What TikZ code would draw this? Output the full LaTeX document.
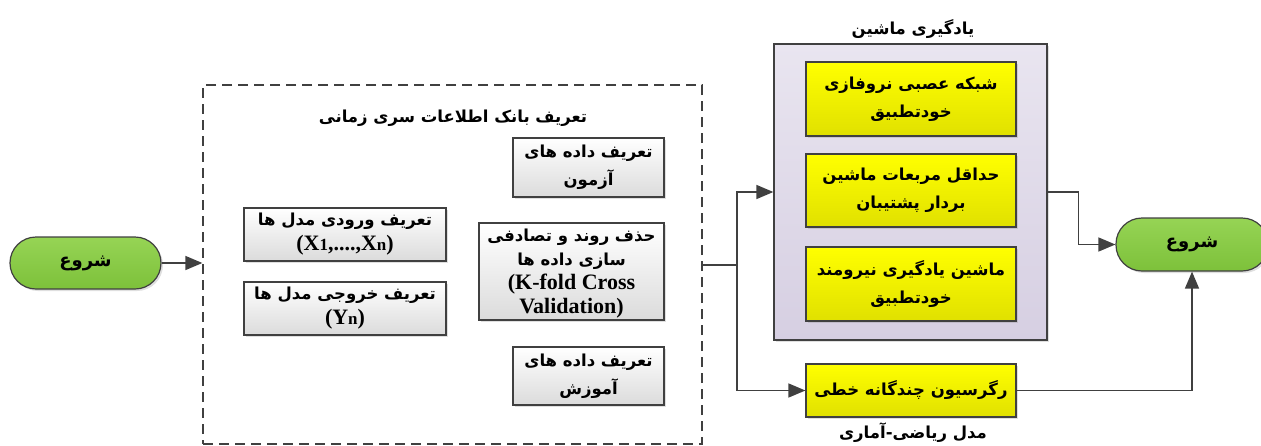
\documentclass[tikz,border=0pt]{standalone}
\usepackage{fontspec}
\setmainfont{Liberation Serif}
\newfontfamily\fafont[Script=Arabic]{DejaVu Sans}
\TeXXeTstate=1
\usetikzlibrary{arrows.meta,shadows}
\definecolor{lc}{HTML}{404040}
\definecolor{gtop}{HTML}{96D455}
\definecolor{gbot}{HTML}{7DC13A}
\definecolor{ltop}{HTML}{E9E5F0}
\definecolor{lbot}{HTML}{D6CFE2}
\newcommand\fa[1]{{\fafont\bfseries\beginR #1\endR}}
\newcommand\la[1]{{\rmfamily\bfseries\fontsize{22}{24}\selectfont #1}}
\newcommand\sm[1]{{\fontsize{17}{17}\selectfont #1}}
\tikzset{
  ln/.style={draw=lc, line width=1.5pt},
  arr/.style={ln, -{Triangle[length=17pt,width=14pt]}},
  shad/.style={drop shadow={opacity=0.25, shadow xshift=2pt, shadow yshift=-2pt}},
  txt/.style={align=center, inner sep=1pt, font=\fontsize{16.5}{28}\selectfont},
  gbox/.style={txt, shad, draw=lc, line width=1.2pt, top color=white, bottom color=black!14},
  ybox/.style={txt, shad, draw=lc, line width=1.2pt, top color=yellow, bottom color=yellow!88!black, minimum width=210pt},
  term/.style={txt, shad, draw=lc, line width=1.2pt, top color=gtop, bottom color=gbot, rounded corners=26pt, font=\fontsize{18}{20}\selectfont},
  ttl/.style={txt, font=\fontsize{16.5}{20}\selectfont},
}
\begin{document}
\begin{tikzpicture}[x=1pt,y=-1pt]
\useasboundingbox (0,0) rectangle (1261,445);
% start / end
\node[term, minimum width=151pt, minimum height=52pt] (start) at (85.5,263) {\fa{شروع}};
\node[term, minimum width=152pt, minimum height=53pt] (end) at (1192,244.5) {\fa{شروع}};
% dashed data box
\node[draw=lc, line width=1.3pt, dash pattern=on 10pt off 6pt, minimum width=499pt, minimum height=359pt, inner sep=0pt] (db) at (452.5,264.5) {};
\node[ttl] (dbt) at (453,118) {\fa{تعریف بانک اطلاعات سری زمانی}};
\node[gbox, minimum width=151pt, minimum height=59pt] (test) at (588.5,167.5) {\fa{تعریف داده های}\\ \fa{آزمون}};
\node[gbox, minimum width=202pt, minimum height=53pt] (inp) at (345,234.5) {\fa{تعریف ورودی مدل ها}\\[-3pt] \la{(X\sm{1},....,X\sm{n})}};
\node[gbox, minimum width=202pt, minimum height=53pt] (out) at (345,308.5) {\fa{تعریف خروجی مدل ها}\\[-3pt] \la{(Y\sm{n})}};
\node[gbox, minimum width=185pt, minimum height=97pt, inner sep=0pt] (trend) at (571.5,271.5) {};
\node[txt, font=\fontsize{16.5}{24}\selectfont] (trendtxt) at ([yshift=-2pt]trend.center) {\fa{حذف روند و تصادفی}\\ \fa{سازی داده ها}\\ \la{(K-fold Cross}\\ \la{Validation)}};
\node[gbox, minimum width=151pt, minimum height=58pt] (train) at (588.5,376) {\fa{تعریف داده های}\\ \fa{آموزش}};
% machine learning box
\node[shad, draw=lc, line width=1.3pt, top color=ltop, bottom color=lbot, minimum width=273pt, minimum height=296pt, inner sep=0pt] (ml) at (910.5,192) {};
\node[ttl] (mlt) at (913,29) {\fa{یادگیری ماشین}};
\node[ybox, minimum height=74pt] (nn) at (911,99) {\fa{شبکه عصبی نروفازی}\\ \fa{خودتطبیق}};
\node[ybox, minimum height=73pt] (svm) at (911,190.5) {\fa{حداقل مربعات ماشین}\\ \fa{بردار پشتیبان}};
\node[ybox, minimum height=74pt] (elm) at (911,284) {\fa{ماشین یادگیری نیرومند}\\ \fa{خودتطبیق}};
\node[ybox, minimum height=53pt] (reg) at (911,390.5) {\fa{رگرسیون چندگانه خطی}};
\node[ttl] (regt) at (913,433) {\fa{مدل ریاضی-آماری}};
% connectors
\coordinate (j) at (737,265);
\draw[arr] (start.east) -- (start.east -| db.west);
\draw[ln] (db.east |- j) -- (j);
\draw[arr] (j) |- (ml.west);
\draw[arr] (j) |- (reg.west);
\draw[arr] (ml.east) -- ++(31,0) |- (end.west);
\draw[arr] (reg.east) -| (end.south);
\end{tikzpicture}
\end{document}
